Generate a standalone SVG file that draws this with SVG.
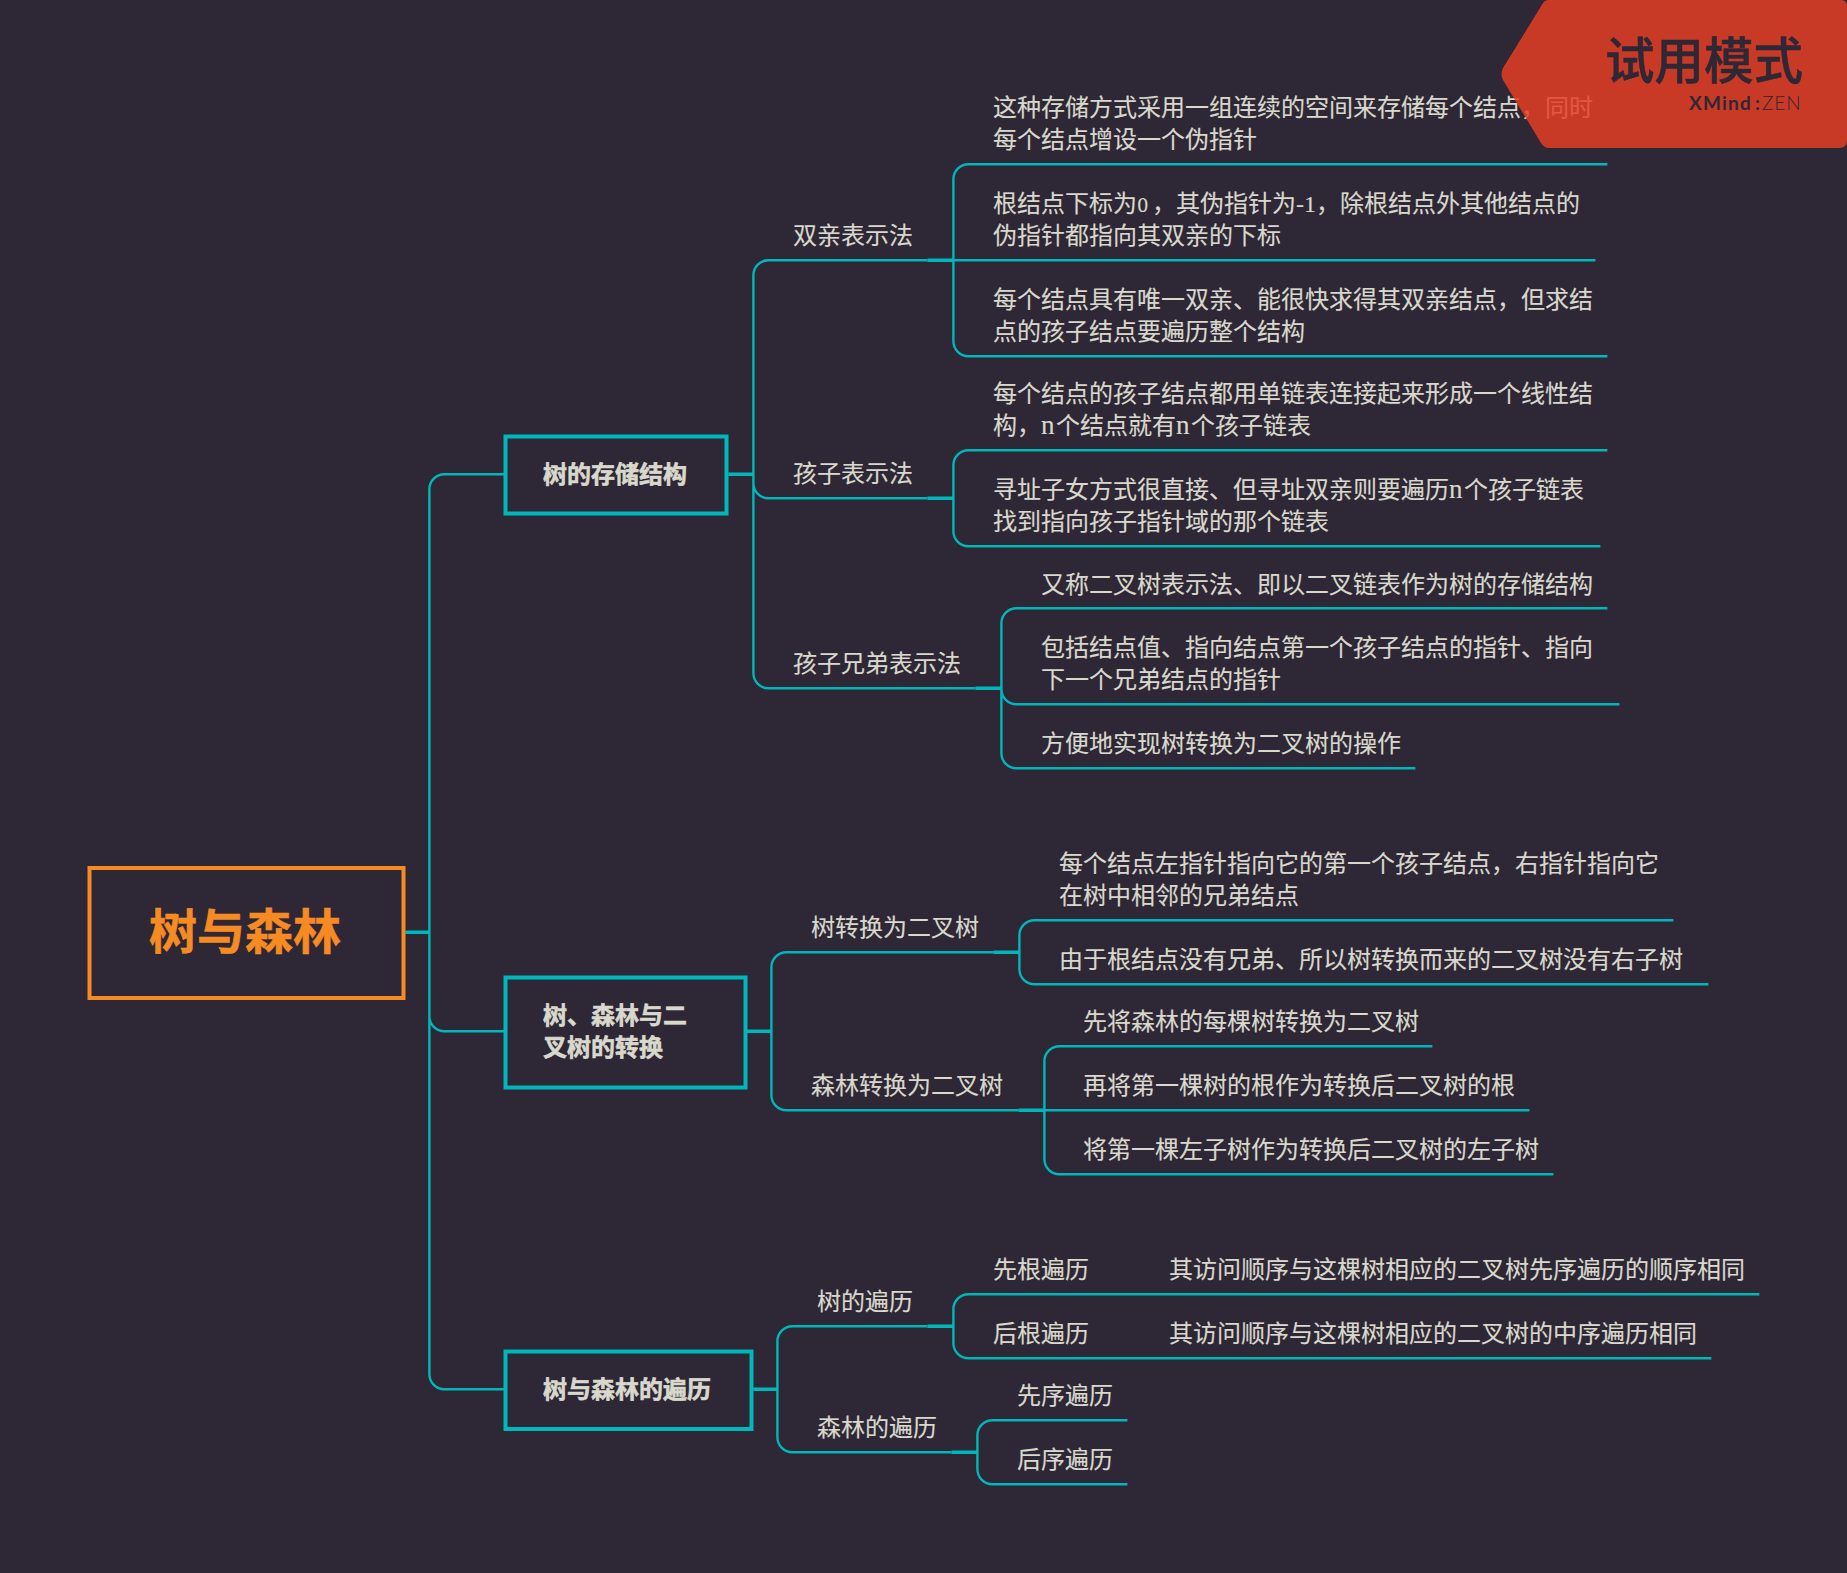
<svg xmlns="http://www.w3.org/2000/svg" width="1847" height="1573" viewBox="0 0 1847 1573">
<style>
text{font-family:"Liberation Serif","Noto Sans CJK SC",sans-serif;font-size:24px;fill:#d8d8cc;stroke:#d8d8cc;stroke-width:.15px}
.b{font-family:"Noto Sans CJK SC",sans-serif;font-weight:700;stroke-width:.6px}
.n{font-size:27px;letter-spacing:1.5px}
.z{font-family:"DejaVu Serif",serif;font-size:18px;letter-spacing:3.5px}
.box{fill:none;stroke:#00b7bb;stroke-width:4}
#connectors path{fill:none;stroke:#00b7bb;stroke-width:2.4}
#connectors path.t{stroke-width:3.4}
.k{font-family:Lato,sans-serif;font-size:19px;fill:#2e2735;stroke:none}
</style>
<rect width="1847" height="1573" fill="#2e2735"/>
<g id="connectors" transform="translate(.4 .3)">
<path class="t" d="M405 932H429M728 474H753M746 1031H771M753 1389H777M927 260H953M927 498H953M975 688H1001M993 952H1019M1018 1110H1044M927 1326H953M951 1452H977"/>
<path d="M505 474H444A15 15 0 0 0 429 489V1374A15 15 0 0 0 444 1389H505M429 1016A15 15 0 0 0 444 1031H505"/>
<path d="M768 260H927M768 260A15 15 0 0 0 753 275V673A15 15 0 0 0 768 688H975M753 483A15 15 0 0 0 768 498H927"/>
<path d="M1607 164H968A15 15 0 0 0 953 179V341A15 15 0 0 0 968 356H1607M953 260H1595"/>
<path d="M1607 450H968A15 15 0 0 0 953 465V531A15 15 0 0 0 968 546H1600"/>
<path d="M1607 608H1016A15 15 0 0 0 1001 623V753A15 15 0 0 0 1016 768H1415M1001 689A15 15 0 0 0 1016 704H1619"/>
<path d="M786 952H993M786 952A15 15 0 0 0 771 967V1095A15 15 0 0 0 786 1110H1018"/>
<path d="M1673 920H1034A15 15 0 0 0 1019 935V969A15 15 0 0 0 1034 984H1708"/>
<path d="M1432 1046H1059A15 15 0 0 0 1044 1061V1159A15 15 0 0 0 1059 1174H1553M1044 1110H1529"/>
<path d="M792 1326H927M792 1326A15 15 0 0 0 777 1341V1437A15 15 0 0 0 792 1452H951"/>
<path d="M1759 1294H968A15 15 0 0 0 953 1309V1343A15 15 0 0 0 968 1358H1711"/>
<path d="M1127 1420H992A15 15 0 0 0 977 1435V1469A15 15 0 0 0 992 1484H1127"/>
</g>
<g id="root"><rect x="89.5" y="868" width="314" height="130" fill="none" stroke="#f68b24" stroke-width="4"/><text x="149" y="949" class="b" style="font-size:48px;fill:#f68b24;stroke:#f68b24">树与森林</text></g>
<g id="topic1"><rect class="box" x="505.5" y="436.5" width="221" height="77"/><text class="b" x="543" y="483">树的存储结构</text></g>
<g id="topic2"><rect class="box" x="505.5" y="977.5" width="240" height="110"/><text class="b" x="543" y="1024">树、森林与二</text><text class="b" x="543" y="1056">叉树的转换</text></g>
<g id="topic3"><rect class="box" x="505.5" y="1351.5" width="246" height="77.500"/><text class="b" x="543" y="1398">树与森林的遍历</text></g>
<g id="n1"><text x="793" y="244">双亲表示法</text></g>
<g id="n2"><text x="793" y="482">孩子表示法</text></g>
<g id="n3"><text x="793" y="671.500">孩子兄弟表示法</text></g>
<g id="n4"><text x="811" y="936">树转换为二叉树</text></g>
<g id="n5"><text x="811" y="1094">森林转换为二叉树</text></g>
<g id="n6"><text x="817" y="1309.500">树的遍历</text></g>
<g id="n7"><text x="817" y="1435.500">森林的遍历</text></g>
<g id="n8"><text x="993" y="116">这种存储方式采用一组连续的空间来存储每个结点，同时</text><text x="993" y="148">每个结点增设一个伪指针</text></g>
<g id="n9"><text x="993" y="212">根结点下标为<tspan class="z">0</tspan>，其伪指针为-1，除根结点外其他结点的</text><text x="993" y="244">伪指针都指向其双亲的下标</text></g>
<g id="n10"><text x="993" y="308">每个结点具有唯一双亲、能很快求得其双亲结点，但求结</text><text x="993" y="340">点的孩子结点要遍历整个结构</text></g>
<g id="n11"><text x="993" y="402">每个结点的孩子结点都用单链表连接起来形成一个线性结</text><text x="993" y="434">构，<tspan class="n">n</tspan>个结点就有<tspan class="n">n</tspan>个孩子链表</text></g>
<g id="n12"><text x="993" y="498">寻址子女方式很直接、但寻址双亲则要遍历<tspan class="n">n</tspan>个孩子链表</text><text x="993" y="530">找到指向孩子指针域的那个链表</text></g>
<g id="n13"><text x="1041" y="592.500">又称二叉树表示法、即以二叉链表作为树的存储结构</text></g>
<g id="n14"><text x="1041" y="656">包括结点值、指向结点第一个孩子结点的指针、指向</text><text x="1041" y="688">下一个兄弟结点的指针</text></g>
<g id="n15"><text x="1041" y="752">方便地实现树转换为二叉树的操作</text></g>
<g id="n16"><text x="1059" y="872">每个结点左指针指向它的第一个孩子结点，右指针指向它</text><text x="1059" y="904">在树中相邻的兄弟结点</text></g>
<g id="n17"><text x="1059" y="968">由于根结点没有兄弟、所以树转换而来的二叉树没有右子树</text></g>
<g id="n18"><text x="1083" y="1030">先将森林的每棵树转换为二叉树</text></g>
<g id="n19"><text x="1083" y="1094">再将第一棵树的根作为转换后二叉树的根</text></g>
<g id="n20"><text x="1083" y="1158">将第一棵左子树作为转换后二叉树的左子树</text></g>
<g id="n21"><text x="993" y="1277.500">先根遍历</text></g>
<g id="n22"><text x="1169" y="1277.500">其访问顺序与这棵树相应的二叉树先序遍历的顺序相同</text></g>
<g id="n23"><text x="993" y="1341.500">后根遍历</text></g>
<g id="n24"><text x="1169" y="1341.500">其访问顺序与这棵树相应的二叉树的中序遍历相同</text></g>
<g id="n25"><text x="1017" y="1403.500">先序遍历</text></g>
<g id="n26"><text x="1017" y="1467.500">后序遍历</text></g>
<g id="badge">
<path d="M1548 0H1841Q1847 0 1847 6V140Q1847 148 1839 148H1549Q1544 148 1541 143L1503 80Q1500 74 1503 68L1543 3Q1545 0 1548 0Z" fill="#e63e24" fill-opacity=".84"/>
<text x="1605" y="79" style="font-family:'Noto Sans CJK SC',sans-serif;font-size:49.500px;fill:#2e2735;stroke:#2e2735;stroke-width:.5px;font-weight:500">试用模式</text>
<text class="k" y="110"><tspan x="1689" style="font-weight:700;letter-spacing:1.2px">XMind</tspan><tspan x="1755" style="font-weight:700">:</tspan><tspan x="1762" style="font-weight:300;letter-spacing:1px">ZEN</tspan></text>
</g>
</svg>
